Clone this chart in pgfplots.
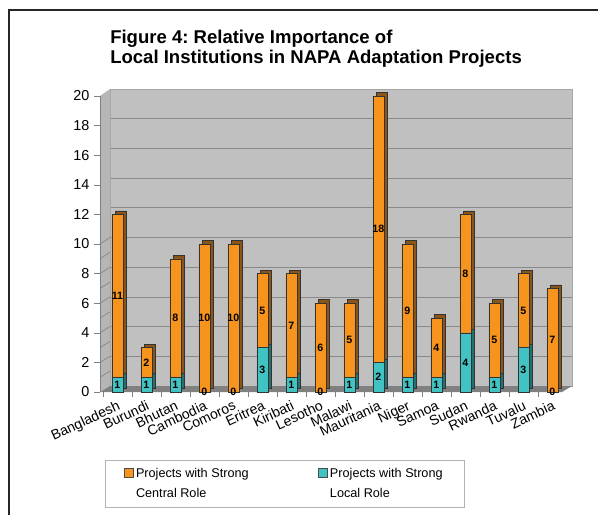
\documentclass[border=0pt]{standalone}
\usepackage{pgfplots}
\pgfplotsset{compat=1.18}
\usepackage{pgfplotstable}
\usepackage{fontspec}
\setmainfont{Liberation Sans}
\frenchspacing

\definecolor{central}{HTML}{F7941D}
\definecolor{centraldark}{HTML}{8C5518}
\definecolor{localc}{HTML}{42C3C3}
\definecolor{localdark}{HTML}{1F7373}
\definecolor{wall}{HTML}{C0C0C0}
\definecolor{sidewall}{HTML}{B6B6B6}
\definecolor{floorc}{HTML}{808080}
\definecolor{gridgray}{HTML}{8A8A8A}

% Number of NAPA adaptation projects per country
\pgfplotstableread{
idx country local central
0  Bangladesh 1 11
1  Burundi    1 2
2  Bhutan     1 8
3  Cambodia   0 10
4  Comoros    0 10
5  Eritrea    3 5
6  Kiribati   1 7
7  Lesotho    0 6
8  Malawi     1 5
9  Mauritania 2 18
10 Niger      1 9
11 Samoa      1 4
12 Sudan      4 8
13 Rwanda     1 5
14 Tuvalu     3 5
15 Zambia     0 7
}\napa

% one drawing unit
\def\u{0.75pt}

\pgfplotsset{
  barframe/.style={
    scale only axis, width=345.75pt, height=222pt,
    xmin=-0.6, xmax=15.3, ymin=0, ymax=20,
    clip=false, anchor=south west,
  },
}

\begin{document}
\begin{tikzpicture}
\path[use as bounding box] (0,0) rectangle ({598*\u},{515*\u});
% page frame
\draw[line width=1.6pt, black!85] ({9*\u},0) -- ({9*\u},{505*\u}) -- ({598*\u},{505*\u});

% title
\node[anchor=base west, font=\bfseries\fontsize{13.9}{16}\selectfont, inner sep=0pt]
  at ({110*\u},{471*\u}) {Figure 4: Relative Importance of};
\node[anchor=base west, font=\bfseries\fontsize{13.9}{16}\selectfont, inner sep=0pt]
  at ({110*\u},{451*\u}) {Local Institutions in NAPA Adaptation Projects};

% back wall with gridlines
\begin{axis}[at={({110*\u},{129*\u})}, anchor=south west, scale only axis,
  width=346.5pt, height=222.75pt, xmin=0, xmax=1, ymin=0, ymax=20,
  xtick=\empty, ytick={0,2,...,20}, yticklabels={}, major tick length=0pt,
  ymajorgrids, grid style={gridgray, line width=0.6pt},
  axis background/.style={fill=wall}, axis line style={gray!70}]
\end{axis}
% side wall and floor
\fill[sidewall] ({100*\u},{123*\u}) -- ({110*\u},{129*\u}) -- ({110*\u},{426*\u}) -- ({100*\u},{419*\u}) -- cycle;
\foreach \k in {1,...,10}
  \draw[gridgray, line width=0.6pt] ({100*\u},{(123+14.8*\k)*\u}) -- ({110*\u},{(129+14.85*\k)*\u});
\fill[floorc] ({100*\u},{123*\u}) -- ({562*\u},{123*\u}) -- ({572*\u},{129*\u}) -- ({110*\u},{129*\u}) -- cycle;

% depth of the bars (side and top faces)
\begin{axis}[barframe, at={({103.5*\u},{126.5*\u})}, hide axis, ybar stacked, bar width=8.25pt]
\addplot[fill=localdark, draw=black!80, line width=0.4pt] table[x=idx, y=local] {\napa};
\addplot[fill=centraldark, draw=black!80, line width=0.4pt] table[x=idx, y=central] {\napa};
\end{axis}

% front faces, axes and legend
\begin{axis}[barframe, at={({100*\u},{123*\u})}, ybar stacked, bar width=8.25pt,
  axis x line*=bottom, axis y line*=left, axis line style={-, gray},
  x axis line style={draw=none},
  ytick={0,2,...,20}, tick align=outside,
  major tick length=4.5pt, minor tick length=4pt,
  ytick style={gray}, major x tick style={draw=none},
  xtick={0,...,15}, minor xtick={-0.5,0.5,...,15.5}, minor x tick style={gray},
  xticklabels from table={\napa}{country},
  xticklabel style={rotate=25, anchor=north east, inner sep=1pt,
    font=\fontsize{10.5}{12}\selectfont},
  yticklabel style={font=\fontsize{10.8}{12}\selectfont},
  /pgf/number format/assume math mode=true,
  reverse legend, legend columns=2,
  legend image code/.code={\draw[#1, draw=black!70, line width=0.4pt] (0pt,4.9pt) rectangle (6.6pt,11.5pt);},
  legend style={at={(axis description cs:0.011,-0.23)}, anchor=north west,
    draw=gray!60, font=\fontsize{9.5}{15}\selectfont,
    inner xsep=14pt, inner ysep=4pt,
    cells={align=left, anchor=west},
    /tikz/every even column/.append style={column sep=50pt}},
]
\addplot[fill=localc, draw=black!80, line width=0.4pt] table[x=idx, y=local] {\napa};
\addlegendentry{Projects with Strong\\Local Role}
\addplot[fill=central, draw=black!80, line width=0.4pt] table[x=idx, y=central] {\napa};
\addlegendentry{Projects with Strong\\Central Role}
\end{axis}

% value labels in the middle of each segment
\begin{axis}[barframe, at={({100*\u},{123*\u})}, hide axis,
  /pgf/number format/assume math mode=true,
  nodes near coords, point meta=explicit,
  every node near coord/.append style={anchor=center, inner sep=0pt,
    font=\bfseries\fontsize{8}{9}\selectfont, text=black}]
\addplot[mark=none, draw=none]
  table[x=idx, y expr=\thisrow{local}/2, meta=local] {\napa};
\addplot[mark=none, draw=none]
  table[x=idx, y expr=\thisrow{local}+\thisrow{central}/2, meta=central] {\napa};
\end{axis}
\end{tikzpicture}
\end{document}
